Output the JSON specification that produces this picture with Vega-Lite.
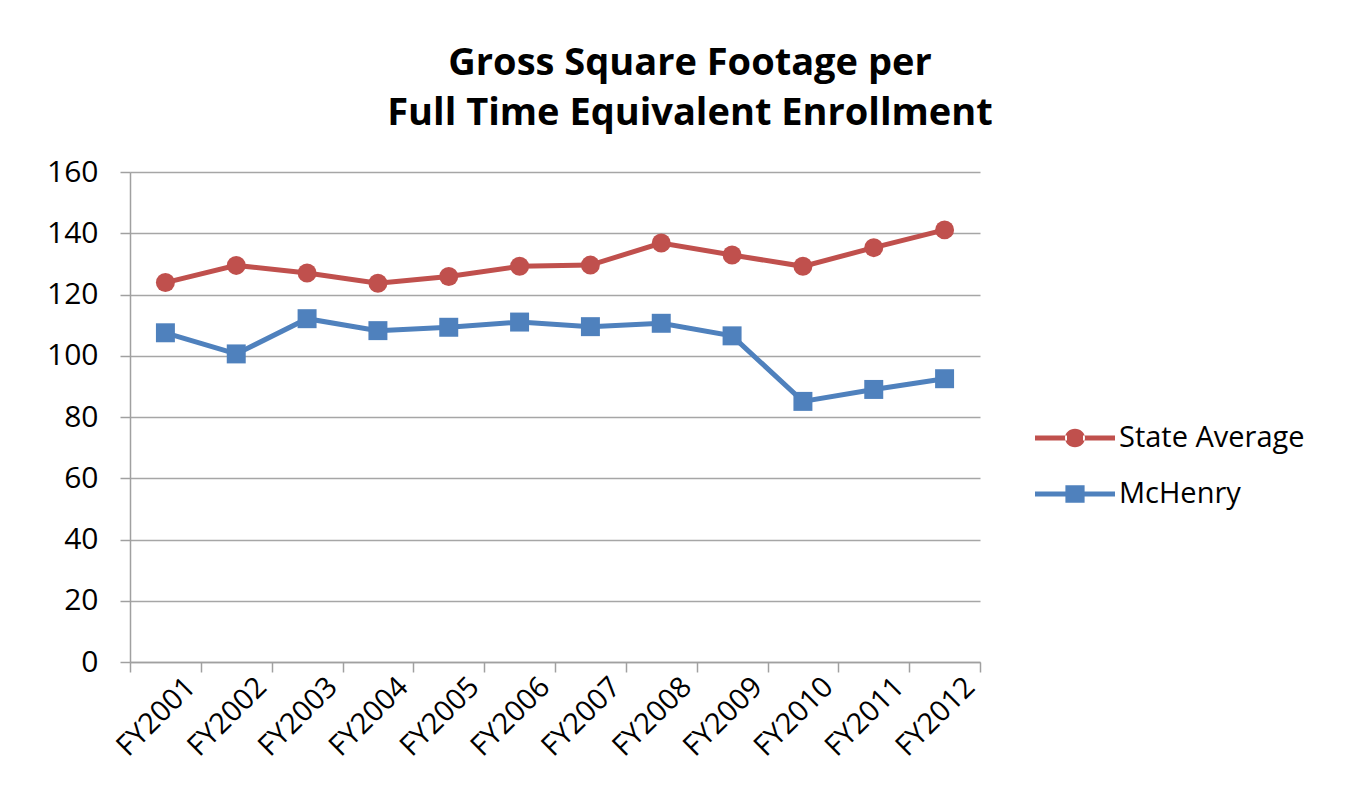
{
  "$schema": "https://vega.github.io/schema/vega-lite/v6.json",
  "width": 850,
  "height": 490,
  "autosize": {"type": "none"},
  "padding": {"left": 130, "top": 172, "right": 374, "bottom": 124},
  "background": "white",
  "title": {
    "text": ["Gross Square Footage per", "Full Time Equivalent Enrollment"],
    "font": "Open Sans",
    "fontSize": 38,
    "fontWeight": "bold",
    "color": "#000000",
    "anchor": "middle",
    "frame": "group",
    "dx": 135,
    "offset": 24,
    "lineHeight": 50
  },
  "data": {
    "values": [
      {"year": "FY2001", "series": "State Average", "value": 123.9},
      {"year": "FY2002", "series": "State Average", "value": 129.5},
      {"year": "FY2003", "series": "State Average", "value": 127.0},
      {"year": "FY2004", "series": "State Average", "value": 123.7},
      {"year": "FY2005", "series": "State Average", "value": 125.9},
      {"year": "FY2006", "series": "State Average", "value": 129.2},
      {"year": "FY2007", "series": "State Average", "value": 129.6},
      {"year": "FY2008", "series": "State Average", "value": 136.8},
      {"year": "FY2009", "series": "State Average", "value": 132.9},
      {"year": "FY2010", "series": "State Average", "value": 129.2},
      {"year": "FY2011", "series": "State Average", "value": 135.3},
      {"year": "FY2012", "series": "State Average", "value": 141.1},
      {"year": "FY2001", "series": "McHenry", "value": 107.5},
      {"year": "FY2002", "series": "McHenry", "value": 100.6},
      {"year": "FY2003", "series": "McHenry", "value": 112.1},
      {"year": "FY2004", "series": "McHenry", "value": 108.2},
      {"year": "FY2005", "series": "McHenry", "value": 109.3},
      {"year": "FY2006", "series": "McHenry", "value": 111.0},
      {"year": "FY2007", "series": "McHenry", "value": 109.5},
      {"year": "FY2008", "series": "McHenry", "value": 110.6},
      {"year": "FY2009", "series": "McHenry", "value": 106.5},
      {"year": "FY2010", "series": "McHenry", "value": 85.1},
      {"year": "FY2011", "series": "McHenry", "value": 89.0},
      {"year": "FY2012", "series": "McHenry", "value": 92.5}
    ]
  },
  "encoding": {
    "x": {
      "field": "year",
      "type": "ordinal",
      "scale": {"type": "band", "paddingInner": 0, "paddingOuter": 0},
      "axis": {
        "title": null,
        "tickBand": "extent",
        "labelAngle": -45,
        "labelAlign": "right",
        "labelBaseline": "middle",
        "labelFont": "Open Sans",
        "labelFontSize": 29,
        "labelColor": "#000000",
        "labelPadding": 10,
        "labelOffset": 25,
        "domainColor": "#a0a0a0",
        "domainWidth": 1.5,
        "tickColor": "#a0a0a0",
        "tickWidth": 1.5,
        "tickSize": 10,
        "grid": false
      }
    },
    "y": {
      "field": "value",
      "type": "quantitative",
      "scale": {"domain": [0, 160], "nice": false, "zero": true},
      "axis": {
        "title": null,
        "values": [0, 20, 40, 60, 80, 100, 120, 140, 160],
        "grid": true,
        "gridColor": "#a6a6a6",
        "gridWidth": 1.5,
        "domainColor": "#a0a0a0",
        "domainWidth": 1.5,
        "tickColor": "#a0a0a0",
        "tickWidth": 1.5,
        "tickSize": 10,
        "labelFont": "Open Sans",
        "labelFontSize": 30,
        "labelColor": "#000000",
        "labelPadding": 22
      }
    }
  },
  "layer": [
    {
      "mark": {"type": "line", "strokeWidth": 5},
      "encoding": {
        "color": {
          "field": "series",
          "type": "nominal",
          "scale": {"domain": ["State Average", "McHenry"], "range": ["#C0504D", "#4F81BD"]},
          "legend": null
        }
      }
    },
    {
      "mark": {"type": "point", "filled": true, "opacity": 1, "size": 360},
      "encoding": {
        "color": {
          "field": "series",
          "type": "nominal",
          "scale": {"domain": ["State Average", "McHenry"], "range": ["#C0504D", "#4F81BD"]},
          "legend": null
        },
        "shape": {
          "field": "series",
          "type": "nominal",
          "scale": {"domain": ["State Average", "McHenry"], "range": ["circle", "square"]},
          "legend": null
        }
      }
    },
    {
      "mark": {"type": "point", "filled": true, "opacity": 0, "size": 6400},
      "encoding": {
        "color": {
          "field": "series",
          "type": "nominal",
          "scale": {"domain": ["State Average", "McHenry"], "range": ["#C0504D", "#4F81BD"]},
          "legend": {
            "title": null,
            "orient": "none",
            "legendX": 905,
            "legendY": 226,
            "symbolOpacity": 1,
            "symbolSize": 6400,
            "symbolStrokeWidth": 0,
            "labelFont": "Open Sans",
            "labelFontSize": 29,
            "labelColor": "#000000",
            "labelOffset": 4,
            "labelLimit": 400,
            "rowPadding": 1
          }
        },
        "shape": {
          "field": "series",
          "type": "nominal",
          "scale": {
            "domain": ["State Average", "McHenry"],
            "range": [
              "M-1,-0.065H-0.2V0.065H-1Z M0.2,-0.065H1V0.065H0.2Z M-0.25,0A0.25,0.23 0 1,0 0.25,0A0.25,0.23 0 1,0 -0.25,0Z",
              "M-1,-0.065H-0.2V0.065H-1Z M0.2,-0.065H1V0.065H0.2Z M-0.24,-0.22H0.24V0.22H-0.24Z"
            ]
          },
          "legend": {
            "title": null,
            "orient": "none",
            "legendX": 905,
            "legendY": 226,
            "symbolOpacity": 1,
            "symbolSize": 6400,
            "symbolStrokeWidth": 0,
            "labelFont": "Open Sans",
            "labelFontSize": 29,
            "labelColor": "#000000",
            "labelOffset": 4,
            "labelLimit": 400,
            "rowPadding": 1
          }
        }
      }
    }
  ],
  "resolve": {"scale": {"shape": "independent", "color": "independent"}},
  "config": {"view": {"stroke": null}}
}
